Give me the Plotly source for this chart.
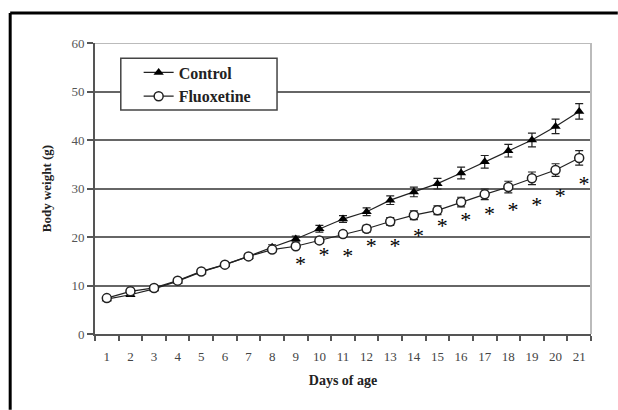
import plotly.graph_objects as go

days = list(range(1, 22))
day_labels = [str(d) for d in days]
control = [7.2, 8.1, 9.3, 10.9, 12.8, 14.3, 16.0, 17.9, 19.6, 21.7, 23.7, 25.2,
           27.6, 29.3, 31.0, 33.2, 35.5, 37.8, 40.0, 42.8, 45.9]
control_err = [0.3, 0.3, 0.3, 0.4, 0.4, 0.4, 0.5, 0.5, 0.6, 0.7, 0.7, 0.8,
               0.9, 1.0, 1.1, 1.2, 1.3, 1.3, 1.4, 1.5, 1.6]
fluox = [7.4, 8.8, 9.5, 11.0, 12.9, 14.3, 16.0, 17.4, 18.1, 19.3, 20.6, 21.7,
         23.2, 24.5, 25.5, 27.2, 28.8, 30.3, 32.1, 33.8, 36.3]
fluox_err = [0.3, 0.3, 0.3, 0.4, 0.4, 0.4, 0.5, 0.5, 0.5, 0.6, 0.6, 0.7,
             0.8, 0.9, 0.9, 1.0, 1.1, 1.2, 1.3, 1.3, 1.5]
star_days = [9, 10, 11, 12, 13, 14, 15, 16, 17, 18, 19, 20, 21]
star_y = [14.1, 16.0, 15.7, 17.8, 17.8, 20.0, 21.9, 23.3, 24.5, 25.2, 26.2, 28.1, 30.6]
y_ticks = [0, 10, 20, 30, 40, 50, 60]

font_family = "Liberation Serif, Times New Roman, serif"
line_col = "#222222"

fig = go.Figure()
fig.add_trace(go.Scatter(
    x=days, y=control, name="<b>Control</b>", mode="lines+markers",
    line=dict(color=line_col, width=1.2),
    marker=dict(symbol="triangle-up", size=9, color="black"),
    error_y=dict(type="data", array=control_err, color=line_col, thickness=1.2, width=4),
))
fig.add_trace(go.Scatter(
    x=days, y=fluox, name="<b>Fluoxetine</b>", mode="lines+markers",
    line=dict(color=line_col, width=1.2),
    marker=dict(symbol="circle", size=9, color="white", line=dict(color=line_col, width=1.5)),
    error_y=dict(type="data", array=fluox_err, color=line_col, thickness=1.2, width=4),
))
fig.add_trace(go.Scatter(
    x=[d + 0.2 for d in star_days], y=star_y, mode="text", text=["*"] * len(star_days),
    textfont=dict(family=font_family, size=22, color="#000000"), showlegend=False,
    textposition="middle center",
))

# outer frame (left and top edges visible)
fig.add_shape(type="line", xref="paper", yref="paper", x0=-0.171, x1=1.054, y0=1.103, y1=1.103,
              line=dict(color="black", width=3))
fig.add_shape(type="line", xref="paper", yref="paper", x0=-0.171, x1=-0.171, y0=1.103, y1=-0.26,
              line=dict(color="black", width=3))
# light right border and top line
fig.add_shape(type="line", xref="paper", yref="paper", x0=1, x1=1, y0=0, y1=1,
              line=dict(color="#bbbbbb", width=2))
fig.add_shape(type="line", xref="paper", yref="y", x0=0, x1=1, y0=60, y1=60,
              line=dict(color="#bbbbbb", width=2))
# legend box
fig.add_shape(type="rect", xref="paper", yref="paper", x0=0.052, x1=0.367, y0=0.770, y1=0.948,
              line=dict(color="#444444", width=1.5), fillcolor="white", layer="above")

fig.update_layout(
    width=618, height=410,
    margin=dict(l=95, r=27, t=43, b=76),
    paper_bgcolor="white", plot_bgcolor="white",
    font=dict(family=font_family, size=12, color="#333333"),
    showlegend=True,
    legend=dict(
        x=0.088, y=0.957, xanchor="left", yanchor="top",
        bgcolor="rgba(0,0,0,0)", borderwidth=0,
        font=dict(family=font_family, size=16, color="#222222"),
        itemwidth=30,
    ),
    xaxis=dict(
        range=[0.5, 21.5], tickvals=days, ticktext=day_labels, ticks="",
        showgrid=False, zeroline=False, showline=True, linecolor="#555555", linewidth=2,
        tickfont=dict(size=13, color="#444444"), ticklabelstandoff=9,
        minor=dict(tickvals=[d - 0.5 for d in days] + [21.5], ticks="outside",
                   ticklen=5, tickcolor="#555555", tickwidth=1.5, showgrid=False),
        title=dict(text="<b>Days of age</b>", font=dict(size=14, color="#222222"), standoff=13),
    ),
    yaxis=dict(
        range=[0, 60], tickvals=y_ticks, ticks="outside", ticklen=6, tickcolor="#555555",
        tickwidth=1.5,
        showgrid=True, gridcolor="#666666", gridwidth=2, zeroline=False,
        showline=True, linecolor="#555555", linewidth=2,
        tickfont=dict(size=13, color="#555555"),
        title=dict(text="<b>Body weight (g)</b>", font=dict(size=13, color="#222222"), standoff=17),
    ),
)

fig.write_html("out.html", config={"displayModeBar": False},
               post_script="document.body.style.margin='0';"
                           "document.documentElement.style.overflow='hidden';"
                           "document.body.style.overflow='hidden';")
